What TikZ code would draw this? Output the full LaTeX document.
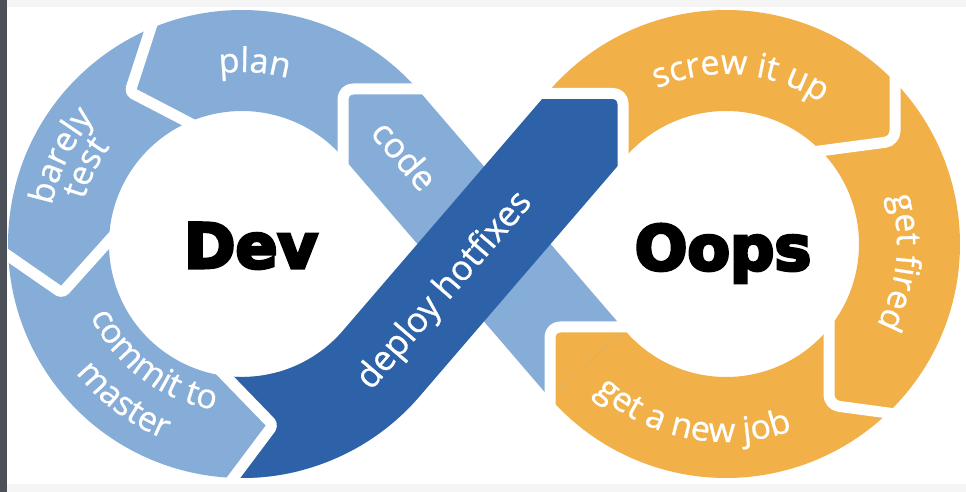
\documentclass[tikz,border=0pt]{standalone}
\usepackage{fontspec}
\usetikzlibrary{calc,decorations.text}
\newfontfamily\labfont[FakeBold=0.8]{Open Sans}
\newfontfamily\headfont[FakeBold=5]{DejaVu Sans Bold}
\definecolor{ltblue}{RGB}{134,172,216}
\definecolor{dkblue}{RGB}{46,98,168}
\definecolor{amber}{RGB}{241,176,72}
\definecolor{edgegrey}{RGB}{76,80,89}
\definecolor{paper}{RGB}{245,245,245}

\begin{document}
\begin{tikzpicture}[x=1pt,y=1pt,
  gap/.style={draw=white, line width=11pt, line join=round},
  bandtext/.style={text=white, font=\labfont\fontsize{35}{35}\selectfont, inner sep=0pt},
  headtext/.style={text=black, font=\headfont\fontsize{62}{62}\selectfont, inner sep=0pt, anchor=base},
  curved/.style={decorate, decoration={text along path, text align=center,
      text={|\labfont\fontsize{34}{34}\selectfont\color{white}|#1}}}]
\pgfmathsetmacro\ri{133}
\pgfmathsetmacro\ro{234}
\pgfmathsetmacro\ph{90-asin(367/484)}
\pgfmathsetmacro\pha{\ph-2}
\pgfmathsetmacro\pr{180-\ph}
\pgfmathsetmacro\pra{\pr+2}

\useasboundingbox (0,0) rectangle (966,492);
\fill[white] (0,0) rectangle (966,492);

% ring centres and tangent points of the two crossing bands
\coordinate (C1) at (242,248);
\coordinate (C2) at (726,248);
\coordinate (Lto) at ($(C1)+(\ph:\ro pt)$);
\coordinate (Lti) at ($(C1)+(\ph:\ri pt)$);
\coordinate (Lbo) at ($(C1)+(-\ph:\ro pt)$);
\coordinate (Lbi) at ($(C1)+(-\ph:\ri pt)$);
\coordinate (Rto) at ($(C2)+(\pr:\ro pt)$);
\coordinate (Rti) at ($(C2)+(\pr:\ri pt)$);
\coordinate (Rbo) at ($(C2)+(-\pr:\ro pt)$);
\coordinate (Rbi) at ($(C2)+(-\pr:\ri pt)$);
\coordinate (T1) at (618,0);
\coordinate (T2) at (618,500);
\coordinate (T3) at (0,393.5);
\coordinate (T4) at (1000,393.5);

% left ring: plan, barely test, commit to master
\fill[ltblue] ($(C1)+(\pha:\ro pt)$) arc[start angle=\pha, end angle=285, radius=\ro pt]
  -- ($(C1)+(285:\ri pt)$) arc[start angle=285, end angle=\pha, radius=\ri pt] -- cycle;

% right ring: screw it up, get fired, get a new job
\fill[amber] ($(C2)+(\pra:\ro pt)$) arc[start angle=\pra, end angle=-\pra, radius=\ro pt]
  -- ($(C2)+(-\pra:\ri pt)$) arc[start angle=-\pra, end angle=\pra, radius=\ri pt] -- cycle;

% code band
\fill[ltblue] (Lto) -- (Rbi) -- (Rbo) -- (Lti) -- cycle;

% head of "get a new job" entering the code band
\begin{scope}
  \clip (550,0) rectangle (1000,165);
  \fill[amber] (Lto) -- (Rbi) -- (Rbo) -- (Lti) -- cycle;
\end{scope}

% deploy hotfixes band, notched at its start
\begin{scope}
  \clip (209,133) -- (273,67) -- (222,-1) -- (222,-60) -- (1300,-60) -- (1300,1000) -- (209,1000) -- cycle;
  \fill[dkblue] ($(C1)+(-100:\ro pt)$) arc[start angle=-100, end angle=-\ph, radius=\ro pt]
    -- (intersection of Lbo--Rti and T1--T2) -- (618,393.5)
    -- (intersection of Lbi--Rto and T3--T4) -- (Lbi)
    arc[start angle=-\ph, end angle=-100, radius=\ri pt] -- cycle;
\end{scope}

% white joints between the segments
\draw[gap, rounded corners=4pt] (155,477) -- (130,400) -- (205,361);
\draw[gap, rounded corners=4pt] (-3,244) -- (62,199) -- (124,268);
\draw[gap, rounded corners=4pt] (222,-1) -- (273,67) -- (209,133);
\draw[gap, rounded corners=10pt] (343,322) -- (343,403) -- (445,403);
\draw[gap, rounded corners=10pt] (530,398.5) -- (623,398.5) -- (623,315);
\draw[gap, rounded corners=10pt] (895,462) -- (895,351) -- (812,340);
\draw[gap, rounded corners=10pt] (829,192) -- (829,87) -- (925,74);
\draw[gap, rounded corners=10pt] (550,57) -- (550,165) -- (645,165);

% curved labels
\path[curved={plan}] ($(C1)+(110:172pt)$) arc[start angle=110, end angle=62, radius=172pt];
\path[curved={barely}] ($(C1)+(180:194pt)$) arc[start angle=180, end angle=128, radius=194pt];
\path[curved={test}] ($(C1)+(180:164pt)$) arc[start angle=180, end angle=128, radius=164pt];
\path[curved={commit to}] ($(C1)+(198:168pt)$) arc[start angle=198, end angle=268, radius=168pt];
\path[curved={master}] ($(C1)+(208:210pt)$) arc[start angle=208, end angle=258, radius=210pt];
\path[curved={screw it up}] ($(C2)+(130:170pt)$) arc[start angle=130, end angle=40, radius=170pt];
\path[curved={get fired}] ($(C2)+(30:171pt)$) arc[start angle=30, end angle=-42, radius=171pt];
\path[curved={get a new job}] ($(C2)+(223:198pt)$) arc[start angle=223, end angle=295, radius=198pt];

% labels on the crossing bands
\node[bandtext, rotate=\ph-90] (code) at (405,337) {code};
\node[bandtext, rotate=90-\ph] (deploy) at (445,201) {deploy hotfixes};

% loop titles
\node[headtext] (dev) at (251,224) {Dev};
\node[headtext] (oops) at (723,222) {Oops};

% frame strips
\fill[paper] (0,484.5) rectangle (966,492);
\fill[paper] (0,0) rectangle (966,8);
\fill[edgegrey] (0,0) rectangle (6.5,492);
\end{tikzpicture}
\end{document}
